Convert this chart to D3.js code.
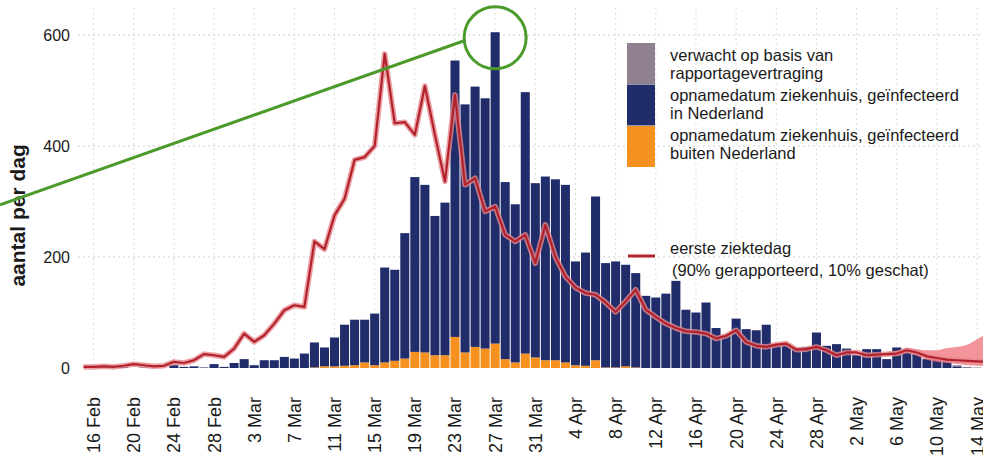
<!DOCTYPE html>
<html>
<head>
<meta charset="utf-8">
<script src="https://cdn.jsdelivr.net/npm/d3@7/dist/d3.min.js"></script>
<style>
  body { margin: 0; background: #fff; }
  text { font-family: "Liberation Sans", Arial, sans-serif; fill: #1a1a1a; }
</style>
</head>
<body>
<div id="my_dataviz"></div>
<script>
// size of the picture
let width = 983,
    height = 464

// one category per day, 15 Feb .. 16 May 2020
var days = d3.timeDay.range(new Date(2020, 1, 15), new Date(2020, 4, 17))
var fmt = d3.timeFormat("%-d %b")
var dayKeys = days.map(fmt)

var tickLabels = ["16 Feb", "20 Feb", "24 Feb", "28 Feb", "3 Mar", "7 Mar", "11 Mar", "15 Mar",
  "19 Mar", "23 Mar", "27 Mar", "31 Mar", "4 Apr", "8 Apr", "12 Apr", "16 Apr", "20 Apr",
  "24 Apr", "28 Apr", "2 May", "6 May", "10 May", "14 May"]
var yTicks = [0, 200, 400, 600]

// bars, first value = 15 Feb
var binnen = [0,
  0, 0, 0, 2, 0, 1, 0, 0,
  5, 2, 3, 1, 7, 2, 9, 16,
  5, 14, 14, 20, 17, 26, 45, 34,
  52, 74, 82, 77, 93, 171, 164, 226,
  315, 302, 251, 275, 498, 447, 469, 451,
  561, 319, 285, 471, 314, 331, 326, 320,
  187, 204, 295, 188, 191, 183, 170, 130,
  127, 134, 157, 105, 100, 118, 72, 59,
  89, 70, 68, 78, 43, 43, 36, 38,
  64, 40, 43, 35, 23, 34, 34, 16,
  37, 32, 26, 16, 16, 16, 3, 1, 0]
var buiten = [0,
  0, 0, 0, 0, 0, 0, 0, 0,
  0, 0, 0, 0, 0, 0, 0, 0,
  0, 0, 0, 0, 0, 0, 1, 3,
  3, 4, 5, 10, 5, 10, 13, 17,
  29, 28, 23, 23, 56, 28, 38, 35,
  44, 16, 10, 26, 19, 14, 14, 10,
  5, 4, 14, 1, 1, 3, 1, 0]
var verwacht = [0,
  0, 0, 0, 0, 0, 0, 0, 0,
  0, 0, 0, 0, 0, 0, 0, 0,
  0, 0, 0, 0, 0, 0, 0, 0,
  0, 0, 0, 0, 0, 0, 0, 0,
  0, 0, 0, 0, 0, 0, 0, 0,
  0, 0, 0, 0, 0, 0, 0, 0,
  0, 0, 0, 0, 0, 0, 0, 0,
  0, 0, 0, 0, 0, 0, 0, 0,
  0, 0, 0, 0, 0, 0, 0, 0,
  0, 0, 0, 0, 0, 0, 0, 0,
  0, 0, 0, 0, 0, 0, 2, 1, 1]

// eerste ziektedag, first value = 15 Feb
var ziektedag = [2,
  2, 3, 2, 4, 7, 5, 3, 4,
  11, 9, 14, 25, 23, 20, 35, 62,
  47, 59, 80, 104, 113, 110, 228, 214,
  275, 305, 375, 380, 400, 566, 441, 443,
  420, 508, 420, 336, 492, 330, 342, 282,
  291, 240, 228, 240, 189, 258, 200, 165,
  145, 135, 132, 118, 101, 120, 141, 105,
  92, 80, 72, 66, 65, 62, 53, 58,
  68, 47, 40, 38, 42, 44, 33, 34,
  38, 32, 23, 28, 28, 23, 24, 25,
  26, 32, 28, 21, 18, 15, 14, 13,
  12, 11]
// uncertainty band of the last days (5 May .. 15 May)
var bandKeys = ["5 May", "6 May", "7 May", "8 May", "9 May", "10 May", "11 May", "12 May", "13 May", "14 May", "15 May"]
var bandHigh = [29, 31, 36, 34, 32, 32, 36, 38, 42, 52, 62]
var bandLow = [22, 22, 27, 22, 15, 11, 9, 7, 5, 4, 3]

var legendItems = [
  {lines: ["verwacht op basis van", "rapportagevertraging"], color: "#8f8190"},
  {lines: ["opnamedatum ziekenhuis, geïnfecteerd", "in Nederland"], color: "#212c6a"},
  {lines: ["opnamedatum ziekenhuis, geïnfecteerd", "buiten Nederland"], color: "#f6911f"}
]

var svg = d3.select("#my_dataviz")
  .append("svg")
    .attr("width", width)
    .attr("height", height)
    .style("display", "block")

var x = d3.scaleBand()
  .domain(dayKeys)
  .range([78.5, 78.5 + dayKeys.length * 10.04])
  .paddingInner(0.1)
  .paddingOuter(0.05)

var y = d3.scaleLinear()
  .domain([0, 600])
  .range([368, 35])

var cx = function(k) { return x(k) + x.bandwidth() / 2 }

// grid
svg.append("g").selectAll("line")
  .data(yTicks.slice(1))
  .enter().append("line")
    .attr("x1", 78).attr("x2", width)
    .attr("y1", d => y(d)).attr("y2", d => y(d))
    .attr("stroke", "#cfcfcf").attr("stroke-dasharray", "2,3")
svg.append("g").selectAll("line")
  .data(tickLabels)
  .enter().append("line")
    .attr("x1", d => cx(d)).attr("x2", d => cx(d))
    .attr("y1", 8).attr("y2", 368)
    .attr("stroke", "#dcdcdc").attr("stroke-dasharray", "2,3")

// stacked bars
var table = dayKeys.map((k, i) => ({key: k, buiten: buiten[i] || 0, binnen: binnen[i] || 0, verwacht: verwacht[i] || 0}))
var stack = d3.stack().keys(["buiten", "binnen", "verwacht"])(table)
var color = d3.scaleOrdinal()
  .domain(["buiten", "binnen", "verwacht"])
  .range(["#f6911f", "#212c6a", "#8f8190"])

svg.append("g").selectAll("g")
  .data(stack)
  .enter().append("g")
    .attr("fill", d => color(d.key))
  .selectAll("rect")
  .data(d => d)
  .enter().append("rect")
    .attr("x", d => x(d.data.key))
    .attr("width", x.bandwidth())
    .attr("y", d => y(d[1]))
    .attr("height", d => y(d[0]) - y(d[1]))

// line with its band
var lineData = ziektedag.map((v, i) => ({key: dayKeys[i], v: v}))
var line = d3.line().x(d => cx(d.key)).y(d => y(d.v))

var band = d3.area()
  .x(d => cx(d))
  .y0((d, i) => y(bandLow[i]))
  .y1((d, i) => y(bandHigh[i]))
  .curve(d3.curveMonotoneX)
svg.append("path")
  .datum(bandKeys)
  .attr("d", band)
  .attr("fill", "#ef6f78")
  .attr("opacity", 0.75)

svg.append("path")
  .datum(lineData)
  .attr("d", line)
  .attr("fill", "none")
  .attr("stroke", "#e58a8f")
  .attr("stroke-width", 5.5)
  .attr("stroke-linejoin", "round")
  .attr("opacity", 0.8)
svg.append("path")
  .datum(lineData)
  .attr("d", line)
  .attr("fill", "none")
  .attr("stroke", "#b3222c")
  .attr("stroke-width", 2.2)
  .attr("stroke-linejoin", "round")

// y axis labels
svg.append("g").selectAll("text")
  .data(yTicks)
  .enter().append("text")
    .attr("x", 70)
    .attr("y", d => y(d))
    .attr("dy", "0.35em")
    .attr("text-anchor", "end")
    .style("font-size", "16px")
    .text(d => d)

svg.append("text")
  .attr("transform", "translate(25," + y(275) + ") rotate(-90)")
  .attr("text-anchor", "middle")
  .style("font-size", "21px")
  .style("font-weight", "bold")
  .text("aantal per dag")

// x axis labels
svg.append("g").selectAll("text")
  .data(tickLabels)
  .enter().append("text")
    .attr("transform", d => "translate(" + cx(d) + ",397) rotate(-90)")
    .attr("dy", "0.36em")
    .attr("text-anchor", "end")
    .style("font-size", "18px")
    .text(d => d)

// legend
var lg = svg.append("g")
legendItems.forEach(function(item, i) {
  lg.append("rect")
    .attr("x", 627).attr("y", 43 + i * 41.5)
    .attr("width", 28).attr("height", 41)
    .attr("fill", item.color)
  item.lines.forEach(function(t, j) {
    lg.append("text")
      .attr("x", 670)
      .attr("y", 61 + i * 40 + j * 18)
      .style("font-size", "16.5px")
      .text(t)
  })
})
lg.append("line")
  .attr("x1", 628).attr("x2", 655)
  .attr("y1", 256).attr("y2", 256)
  .attr("stroke", "#b3222c").attr("stroke-width", 3)
lg.append("text").attr("x", 670).attr("y", 254).style("font-size", "16.5px").text("eerste ziektedag")
lg.append("text").attr("x", 672).attr("y", 276).style("font-size", "16.5px").text("(90% gerapporteerd, 10% geschat)")

// green annotation round the top bar
var pk = {x: cx("27 Mar"), y: y(595)}
svg.append("circle")
  .attr("cx", pk.x).attr("cy", pk.y).attr("r", 31)
  .attr("fill", "none").attr("stroke", "#4c9a2a").attr("stroke-width", 3)
svg.append("line")
  .attr("x1", 0).attr("y1", y(294))
  .attr("x2", pk.x - 31).attr("y2", pk.y + 3)
  .attr("stroke", "#4c9a2a").attr("stroke-width", 3)
</script>
</body>
</html>
